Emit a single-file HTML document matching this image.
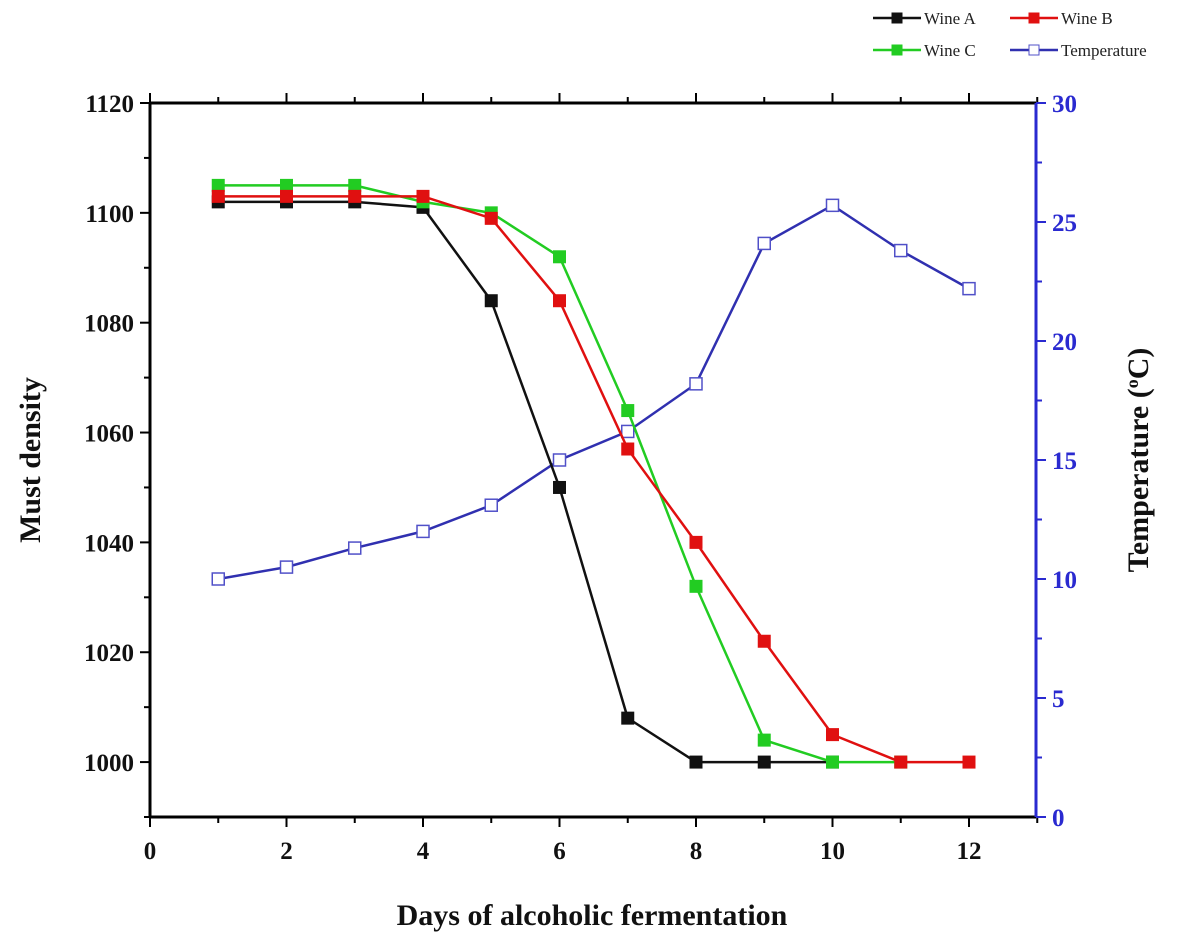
<!DOCTYPE html>
<html><head><meta charset="utf-8"><style>
body{margin:0;background:#fff}
svg text{font-family:"Liberation Serif",serif}
</style></head><body>
<svg id="chart" width="1200" height="944" viewBox="0 0 1200 944"></svg>
<script>
const days=[1,2,3,4,5,6,7,8,9,10,11,12];
const wineA=[1102,1102,1102,1101,1084,1050,1008,1000,1000,1000,null,null];
const wineB=[1103,1103,1103,1103,1099,1084,1057,1040,1022,1005,1000,1000];
const wineC=[1105,1105,1105,1102,1100,1092,1064,1032,1004,1000,1000,null];
const temp=[10.0,10.5,11.3,12.0,13.1,15.0,16.2,18.2,24.1,25.7,23.8,22.2];
const xTicks=[0,2,4,6,8,10,12];
const yTicks=[1000,1020,1040,1060,1080,1100,1120];
const rTicks=[0,5,10,15,20,25,30];

const L=150,R=1036,T=103,B=817;
const X=v=>L+(v-0)*(969-150)/12;
const Y=v=>B-(v-990)*(B-T)/130;
const YR=v=>B-v*(B-T)/30;
const svg=document.getElementById('chart');
const NS='http://www.w3.org/2000/svg';
function mk(tag,attrs,parent){const e=document.createElementNS(NS,tag);for(const k in attrs)e.setAttribute(k,attrs[k]);(parent||svg).appendChild(e);return e;}

// axes
let e;
e=mk('line',{x1:L,y1:B,x2:R,y2:B,stroke:'#000','stroke-width':3});


e=mk('line',{x1:L,y1:T,x2:R,y2:T,stroke:'#000','stroke-width':3});


e=mk('line',{x1:L,y1:T,x2:L,y2:B,stroke:'#000','stroke-width':3});


e=mk('line',{x1:R,y1:T,x2:R,y2:B,stroke:'#2a2ad0','stroke-width':3});



for(let v=0;v<=13;v++){
  const len=v%2===0?10:6;
  mk('line',{x1:X(v),y1:B,x2:X(v),y2:B+len,stroke:'#000','stroke-width':2});
  mk('line',{x1:X(v),y1:T,x2:X(v),y2:T-len,stroke:'#000','stroke-width':2});
}
xTicks.forEach(v=>{
  e=mk('text',{x:X(v),y:B+42,'text-anchor':'middle','font-size':25,'font-weight':'bold',fill:'#111'});
  e.textContent=v;
  
  
});
for(let v=990;v<=1120;v+=10){
  const len=(v%20===0)?10:6;
  mk('line',{x1:L,y1:Y(v),x2:L-len,y2:Y(v),stroke:'#000','stroke-width':2});
}
yTicks.forEach(v=>{
  e=mk('text',{x:L-16,y:Y(v)+9,'text-anchor':'end','font-size':25,'font-weight':'bold',fill:'#111'});
  e.textContent=v;
  
  
});
for(let v=0;v<=30;v+=2.5){
  const len=(v%5===0)?10:6;
  mk('line',{x1:R,y1:YR(v),x2:R+len,y2:YR(v),stroke:'#2a2ad0','stroke-width':2});
}
rTicks.forEach(v=>{
  e=mk('text',{x:R+16,y:YR(v)+9,'text-anchor':'start','font-size':25,'font-weight':'bold',fill:'#2a2ad0'});
  e.textContent=v;
  
  
});

e=mk('text',{x:592,y:925,'text-anchor':'middle','font-size':30,'font-weight':'bold',fill:'#111'});
e.textContent='Days of alcoholic fermentation';


e=mk('text',{x:0,y:0,transform:'translate(40,460) rotate(-90)','text-anchor':'middle','font-size':30,'font-weight':'bold',fill:'#111'});
e.textContent='Must density';


e=mk('text',{x:0,y:0,transform:'translate(1148,460) rotate(-90)','text-anchor':'middle','font-size':30,'font-weight':'bold',fill:'#111'});
e.innerHTML='Temperature (<tspan baseline-shift="super" font-size="18">o</tspan>C)';



function series(vals,yf,color,name,hollow){
  const g=mk('g',{});
  
  
  let d='';
  vals.forEach((v,i)=>{if(v==null)return;d+=(d?'L':'M')+X(days[i])+','+yf(v);});
  mk('path',{d:d,fill:'none',stroke:color,'stroke-width':2.5},g);
  vals.forEach((v,i)=>{
    if(v==null)return;
    const r=mk('rect',{x:X(days[i])-6,y:yf(v)-6,width:12,height:12,fill:hollow?'#fff':color,stroke:hollow?'#5050c8':color,'stroke-width':hollow?1.5:1},g);
    
    
  });
}
series(temp,YR,'#3030b0','temperature-series',true);
series(wineA,Y,'#111','wine-a-series',false);
series(wineC,Y,'#22cc22','wine-c-series',false);
series(wineB,Y,'#e01010','wine-b-series',false);

// legend
function leg(x,y,color,label,hollow){
  const g=mk('g',{});
  
  
  mk('line',{x1:x,y1:y,x2:x+48,y2:y,stroke:color,'stroke-width':2.5},g);
  mk('rect',{x:x+19,y:y-5,width:10,height:10,fill:hollow?'#fff':color,stroke:hollow?'#5050c8':color},g);
  const t=mk('text',{x:x+51,y:y+6,'font-size':17,fill:'#222'},g);
  t.textContent=label;
}
leg(873,18,'#111','Wine A');
leg(1010,18,'#e01010','Wine B');
leg(873,50,'#22cc22','Wine C');
leg(1010,50,'#3030b0','Temperature',true);
</script>
</body></html>
